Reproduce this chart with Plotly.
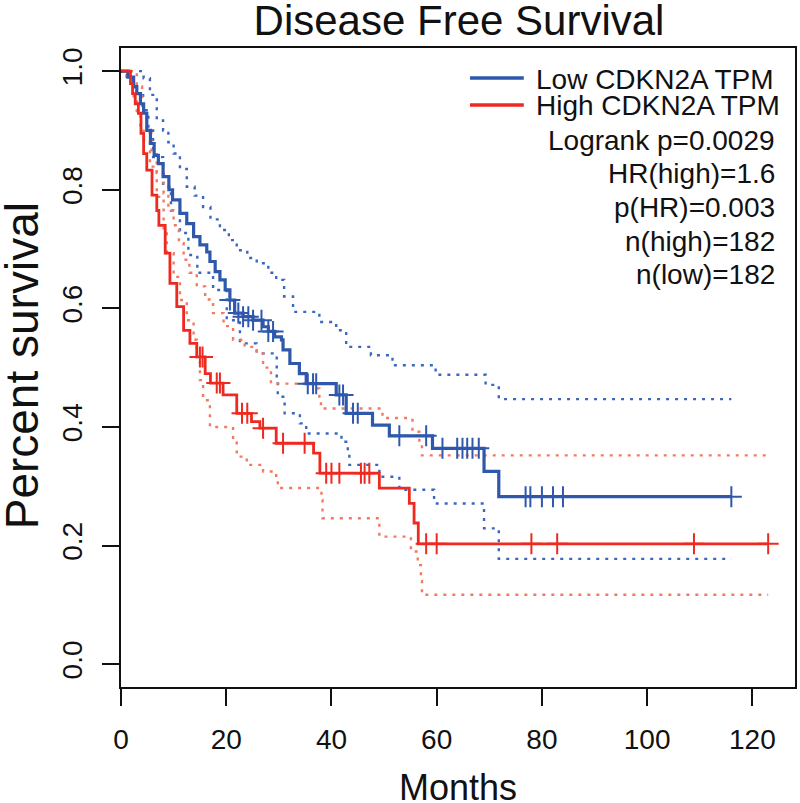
import numpy as np
import plotly.graph_objects as go

# ---- data ----
low_t = [0, 1.3, 2.4, 3.0, 3.7, 4.3, 4.9, 5.6, 6.3, 7.1, 8.0, 9.1, 9.8, 11.2, 12.5, 13.8, 15.0, 16.3, 16.9, 17.9,
         18.8, 19.8, 20.7, 21.6, 23.2, 25.1, 27.0, 28.0, 29.2, 30.5, 30.8, 32.1, 33.9, 35.2, 40.9, 42.8, 47.8,
         51.0, 59.2, 69.0, 71.8, 116]
low_s = [1.0, 0.99, 0.974, 0.962, 0.945, 0.929, 0.90, 0.878, 0.858, 0.844, 0.822, 0.80, 0.783, 0.760, 0.743,
         0.721, 0.707, 0.695, 0.679, 0.662, 0.648, 0.631, 0.614, 0.592, 0.586, 0.580, 0.569, 0.561, 0.552, 0.547,
         0.530, 0.507, 0.490, 0.473, 0.454, 0.423, 0.403, 0.385, 0.364, 0.325, 0.2825, 0.2825]
low_cens = [20.7, 22.3, 23.2, 24.2, 25.1, 26.7, 28.0, 28.9, 35.5, 36.5, 37.1, 41.5, 42.2, 44.1, 45.0, 52.9, 58.0,
            61.1, 63.9, 64.9, 65.8, 66.8, 68.0, 76.9, 77.8, 80.0, 82.1, 84.0, 116]

low_up_t = [0, 2.5, 4.3, 5.5, 6.8, 8.0, 9.0, 10.0, 11.2, 12.5, 14.0, 15.6, 17.0, 18.8, 20.5, 22.0, 24.0, 25.8,
            28.0, 29.5, 31.0, 32.7, 37.7, 40.9, 42.8, 47.5, 51.6, 59.8, 69.3, 71.8, 116]
low_up_s = [1.0, 1.0, 0.988, 0.96, 0.917, 0.90, 0.88, 0.861, 0.835, 0.805, 0.79, 0.771, 0.75, 0.732, 0.715, 0.698,
            0.685, 0.676, 0.66, 0.648, 0.62, 0.594, 0.577, 0.563, 0.535, 0.521, 0.504, 0.488, 0.471, 0.447, 0.447]
low_lo_t = [0, 1.1, 2.3, 4.2, 5.2, 6.1, 8.0, 9.5, 11.2, 12.8, 14.5, 17.5, 20.1, 22.6, 25.8, 29.6, 29.8, 31.1,
            34.0, 35.2, 41.9, 43.1, 43.4, 49.1, 52.9, 59.5, 69.0, 71.8, 116]
low_lo_s = [1.0, 0.991, 0.963, 0.934, 0.90, 0.855, 0.805, 0.765, 0.727, 0.69, 0.66, 0.631, 0.58, 0.541, 0.524,
            0.479, 0.451, 0.423, 0.406, 0.389, 0.375, 0.356, 0.336, 0.316, 0.294, 0.271, 0.229, 0.1775, 0.1775]

high_t = [0, 1.8, 2.2, 2.7, 3.3, 3.8, 4.3, 4.9, 5.9, 6.8, 7.2, 8.4, 9.3, 10.6, 11.9, 13.1, 14.4, 16.0, 17.0, 19.4,
          22.0, 24.8, 26.4, 29.5, 36.6, 37.8, 49.1, 54.8, 55.7, 56.5, 123]
high_s = [1.0, 0.979, 0.962, 0.945, 0.929, 0.895, 0.861, 0.833, 0.791, 0.765, 0.740, 0.693, 0.642, 0.603, 0.563,
          0.541, 0.518, 0.490, 0.474, 0.454, 0.423, 0.409, 0.398, 0.3725, 0.356, 0.322, 0.297, 0.271, 0.238,
          0.203, 0.203]
high_cens = [15.0, 15.5, 18.2, 18.8, 23.0, 24.0, 27.0, 30.8, 34.9, 39.0, 40.0, 41.5, 45.6, 46.3, 47.2, 58.0, 60.0,
             78.0, 82.9, 108.9, 123]

high_up_t = [0, 3.0, 4.0, 4.9, 5.8, 6.8, 8.1, 9.0, 10.0, 11.0, 11.9, 13.0, 14.4, 16.0, 17.5, 19.5, 21.3, 23.5,
             25.8, 27.0, 28.5, 36.5, 37.7, 38.0, 49.7, 55.4, 56.7, 57.2, 123]
high_up_s = [1.0, 0.974, 0.93, 0.895, 0.86, 0.828, 0.794, 0.765, 0.74, 0.71, 0.682, 0.66, 0.637, 0.615, 0.592,
             0.57, 0.547, 0.535, 0.524, 0.50, 0.473, 0.465, 0.445, 0.431, 0.415, 0.392, 0.3725, 0.352, 0.352]
high_lo_t = [0, 1.1, 2.4, 3.0, 3.7, 4.3, 5.5, 6.8, 8.1, 8.7, 10.0, 11.2, 12.5, 13.8, 14.4, 15.0, 15.6, 16.9, 21.3,
             22.0, 23.9, 27.0, 29.5, 29.8, 38.1, 38.3, 49.1, 55.1, 56.4, 57.0, 57.2, 123]
high_lo_s = [1.0, 0.991, 0.951, 0.929, 0.905, 0.884, 0.839, 0.788, 0.732, 0.693, 0.653, 0.614, 0.58, 0.547, 0.513,
             0.479, 0.445, 0.40, 0.378, 0.35, 0.336, 0.325, 0.313, 0.297, 0.277, 0.246, 0.215, 0.19, 0.167, 0.14,
             0.117, 0.117]

x_ticks = [0, 20, 40, 60, 80, 100, 120]
y_ticks = [0.0, 0.2, 0.4, 0.6, 0.8, 1.0]
y_tick_text = ["0.0", "0.2", "0.4", "0.6", "0.8", "1.0"]

legend_names = ["Low CDKN2A TPM", "High CDKN2A TPM"]
stats_lines = ["Logrank p=0.0029", "HR(high)=1.6", "p(HR)=0.003", "n(high)=182", "n(low)=182"]

BLUE = "#2f58ad"
RED = "#ee2a20"
BLUE_CI = "#3a68c0"
RED_CI = "#f27a62"
FONT = "Liberation Sans, Arial, Helvetica, sans-serif"


def step_at(ts, ss, q):
    idx = np.searchsorted(np.asarray(ts), np.asarray(q), side="right") - 1
    return np.asarray(ss)[idx]


fig = go.Figure()

for ts, ss, col in [(low_up_t, low_up_s, BLUE_CI), (low_lo_t, low_lo_s, BLUE_CI),
                    (high_up_t, high_up_s, RED_CI), (high_lo_t, high_lo_s, RED_CI)]:
    fig.add_trace(go.Scatter(x=ts, y=ss, mode="lines", line=dict(shape="hv", color=col, width=2.4, dash="3px,6px"),
                             showlegend=False, hoverinfo="skip"))

fig.add_trace(go.Scatter(x=low_t, y=low_s, mode="lines", line=dict(shape="hv", color=BLUE, width=3.2),
                         name=legend_names[0], showlegend=False))
fig.add_trace(go.Scatter(x=high_t, y=high_s, mode="lines", line=dict(shape="hv", color=RED, width=2.8),
                         name=legend_names[1], showlegend=False))

fig.add_trace(go.Scatter(x=low_cens, y=step_at(low_t, low_s, low_cens), mode="markers",
                         marker=dict(symbol="cross-thin-open", size=15, color=BLUE,
                                     line=dict(color=BLUE, width=2)),
                         showlegend=False))
fig.add_trace(go.Scatter(x=high_cens, y=step_at(high_t, high_s, high_cens), mode="markers",
                         marker=dict(symbol="cross-thin-open", size=15, color=RED,
                                     line=dict(color=RED, width=2)),
                         showlegend=False))

# plot area in pixels: x 121..797, y 48..687
L, R, T, B = 121, 797, 48, 687
W, H = 800, 803


def px(x):
    return (x - L) / (R - L)


def py(y):
    return (B - y) / (B - T)


shapes = []
annotations = []
leg_y = [78, 105]
for name, col, yy in zip(legend_names, [BLUE, RED], leg_y):
    shapes.append(dict(type="line", xref="paper", yref="paper", x0=px(471), x1=px(525), y0=py(yy), y1=py(yy),
                       line=dict(color=col, width=3.5)))
    annotations.append(dict(xref="paper", yref="paper", x=px(535), y=py(yy + 1), text=name, showarrow=False,
                            xanchor="left", yanchor="middle", font=dict(family=FONT, size=28, color="#111")))
for txt, yy in zip(stats_lines, [139, 173, 206, 240, 273]):
    annotations.append(dict(xref="paper", yref="paper", x=px(779), y=py(yy + 1), text=txt, showarrow=False,
                            xanchor="right", yanchor="middle", font=dict(family=FONT, size=28, color="#111")))

annotations.append(dict(xref="paper", yref="paper", x=0.5, y=py(787), text="Months", showarrow=False,
                        xanchor="center", yanchor="middle", font=dict(family=FONT, size=36, color="#111")))
annotations.append(dict(xref="paper", yref="paper", x=px(22), y=py(366), text="Percent survival", showarrow=False,
                        xanchor="center", yanchor="middle", textangle=-90,
                        font=dict(family=FONT, size=46, color="#111")))

fig.update_layout(
    width=W, height=H,
    margin=dict(l=L, r=W - R, t=T, b=H - B),
    paper_bgcolor="white", plot_bgcolor="white",
    title=dict(text="Disease Free Survival", x=0.5 * (L + R) / W, xanchor="center", y=1 - 20 / H,
               yanchor="middle", font=dict(family=FONT, size=42, color="#111")),
    shapes=shapes, annotations=annotations,
    showlegend=False,
)
fig.update_xaxes(range=[0, 128.1], tickvals=x_ticks, ticks="outside", ticklen=17, tickwidth=2, tickcolor="#111",
                 showline=True, linewidth=2, linecolor="#111", mirror=True, showgrid=False, zeroline=False,
                 tickfont=dict(family=FONT, size=28, color="#111"), ticklabelstandoff=9)
fig.update_yaxes(range=[-0.0385, 1.039], tickvals=y_ticks, ticktext=y_tick_text, ticks="outside", ticklen=17,
                 tickwidth=2, tickcolor="#111", showline=True, linewidth=2, linecolor="#111", mirror=True,
                 showgrid=False, zeroline=False, tickangle=-90,
                 tickfont=dict(family=FONT, size=28, color="#111"), ticklabelstandoff=9)

fig.write_html("out.html", config={"displayModeBar": False},
               post_script="document.body.style.margin='0';document.body.style.padding='0';")
